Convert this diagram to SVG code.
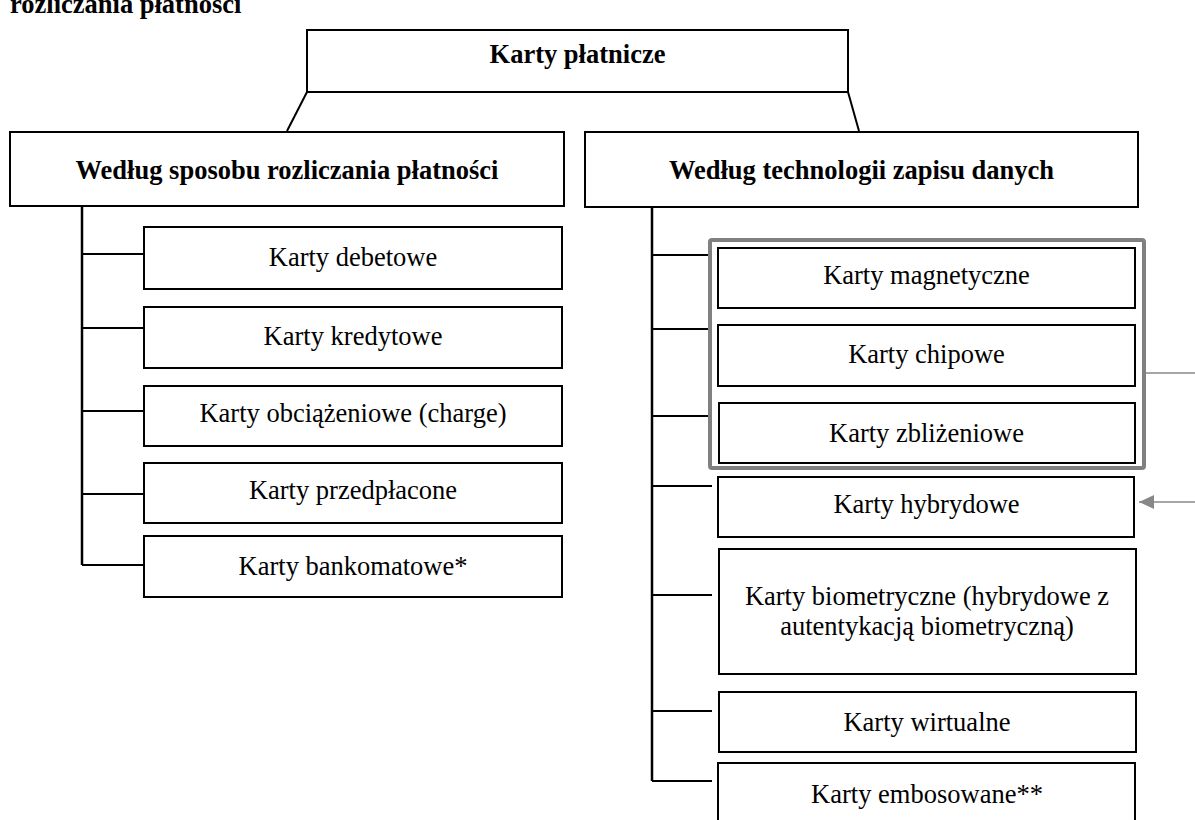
<svg xmlns="http://www.w3.org/2000/svg" width="1195" height="820" viewBox="0 0 1195 820">
<defs>
<style>
.box{fill:#fff;stroke:#000;stroke-width:2}
.t{font-family:"Liberation Serif","Times New Roman",serif;font-size:26.5px;fill:#000;text-anchor:middle}
.b{font-weight:bold}
.ln{stroke:#000;stroke-width:2;fill:none}
.tr{stroke:#000;stroke-width:2.5;fill:none}
.grey{stroke:#888;stroke-width:1.6;fill:none}
</style>
<marker id="ah" markerWidth="16" markerHeight="14" refX="15" refY="7" orient="auto" markerUnits="userSpaceOnUse">
<path d="M0,0 L15,7 L0,14 Z" fill="#888"/>
</marker>
</defs>
<rect width="1195" height="820" fill="#fff"/>
<text x="10" y="13" class="t b" style="text-anchor:start">rozliczania płatności</text>

<g id="connectors">
<line class="ln" x1="307" y1="92" x2="287" y2="131"/>
<line class="ln" x1="848" y1="92" x2="859" y2="131"/>
<line class="tr" x1="82" y1="206" x2="82" y2="565"/>
<line class="ln" x1="82" y1="254" x2="144" y2="254"/>
<line class="ln" x1="82" y1="328" x2="144" y2="328"/>
<line class="ln" x1="82" y1="411" x2="144" y2="411"/>
<line class="ln" x1="82" y1="494" x2="144" y2="494"/>
<line class="ln" x1="82" y1="565" x2="144" y2="565"/>
<line class="tr" x1="652" y1="207" x2="652" y2="781"/>
<line class="ln" x1="652" y1="255" x2="710" y2="255"/>
<line class="ln" x1="652" y1="329" x2="710" y2="329"/>
<line class="ln" x1="652" y1="416" x2="710" y2="416"/>
<line class="ln" x1="652" y1="486" x2="712" y2="486"/>
<line class="ln" x1="652" y1="595" x2="712" y2="595"/>
<line class="ln" x1="652" y1="711" x2="712" y2="711"/>
<line class="ln" x1="652" y1="781" x2="712" y2="781"/>
<line class="grey" x1="1146" y1="373" x2="1195" y2="373"/>
<line class="grey" x1="1195" y1="502" x2="1139" y2="502" marker-end="url(#ah)"/>
</g>

<g id="root"><rect class="box" x="307" y="30" width="541" height="62"/><text class="t b" x="577.5" y="63">Karty płatnicze</text></g>
<g id="cat-rozliczanie"><rect class="box" x="10" y="132" width="554" height="74"/><text class="t b" x="287" y="179">Według sposobu rozliczania płatności</text></g>
<g id="cat-technologia"><rect class="box" x="585" y="132" width="553" height="75"/><text class="t b" x="861.5" y="179">Według technologii zapisu danych</text></g>

<g id="debetowe"><rect class="box" x="144" y="227" width="418" height="62"/><text class="t" x="353" y="266">Karty debetowe</text></g>
<g id="kredytowe"><rect class="box" x="144" y="307" width="418" height="61"/><text class="t" x="353" y="345">Karty kredytowe</text></g>
<g id="obciazeniowe"><rect class="box" x="144" y="386" width="418" height="60"/><text class="t" x="353" y="422">Karty obciążeniowe (charge)</text></g>
<g id="przedplacone"><rect class="box" x="144" y="463" width="418" height="60"/><text class="t" x="353" y="499">Karty przedpłacone</text></g>
<g id="bankomatowe"><rect class="box" x="144" y="536" width="418" height="61"/><text class="t" x="353" y="575">Karty bankomatowe*</text></g>

<g id="group-grey"><rect x="710" y="240" width="434" height="228" rx="2" fill="none" stroke="#808080" stroke-width="4"/></g>
<g id="magnetyczne"><rect class="box" x="718" y="248" width="417" height="60"/><text class="t" x="926.5" y="284">Karty magnetyczne</text></g>
<g id="chipowe"><rect class="box" x="718" y="325" width="417" height="61"/><text class="t" x="926.5" y="363">Karty chipowe</text></g>
<g id="zblizeniowe"><rect class="box" x="719" y="403" width="416" height="60"/><text class="t" x="926.5" y="442">Karty zbliżeniowe</text></g>
<g id="hybrydowe"><rect class="box" x="718" y="477" width="416" height="60"/><text class="t" x="926.5" y="513">Karty hybrydowe</text></g>
<g id="biometryczne"><rect class="box" x="719" y="549" width="417" height="125"/><text class="t" x="927" y="605">Karty biometryczne (hybrydowe z</text><text class="t" x="927" y="635">autentykacją biometryczną)</text></g>
<g id="wirtualne"><rect class="box" x="719" y="692" width="417" height="60"/><text class="t" x="927" y="731">Karty wirtualne</text></g>
<g id="embosowane"><rect class="box" x="718" y="763" width="417" height="70"/><text class="t" x="927" y="803">Karty embosowane**</text></g>
</svg>
